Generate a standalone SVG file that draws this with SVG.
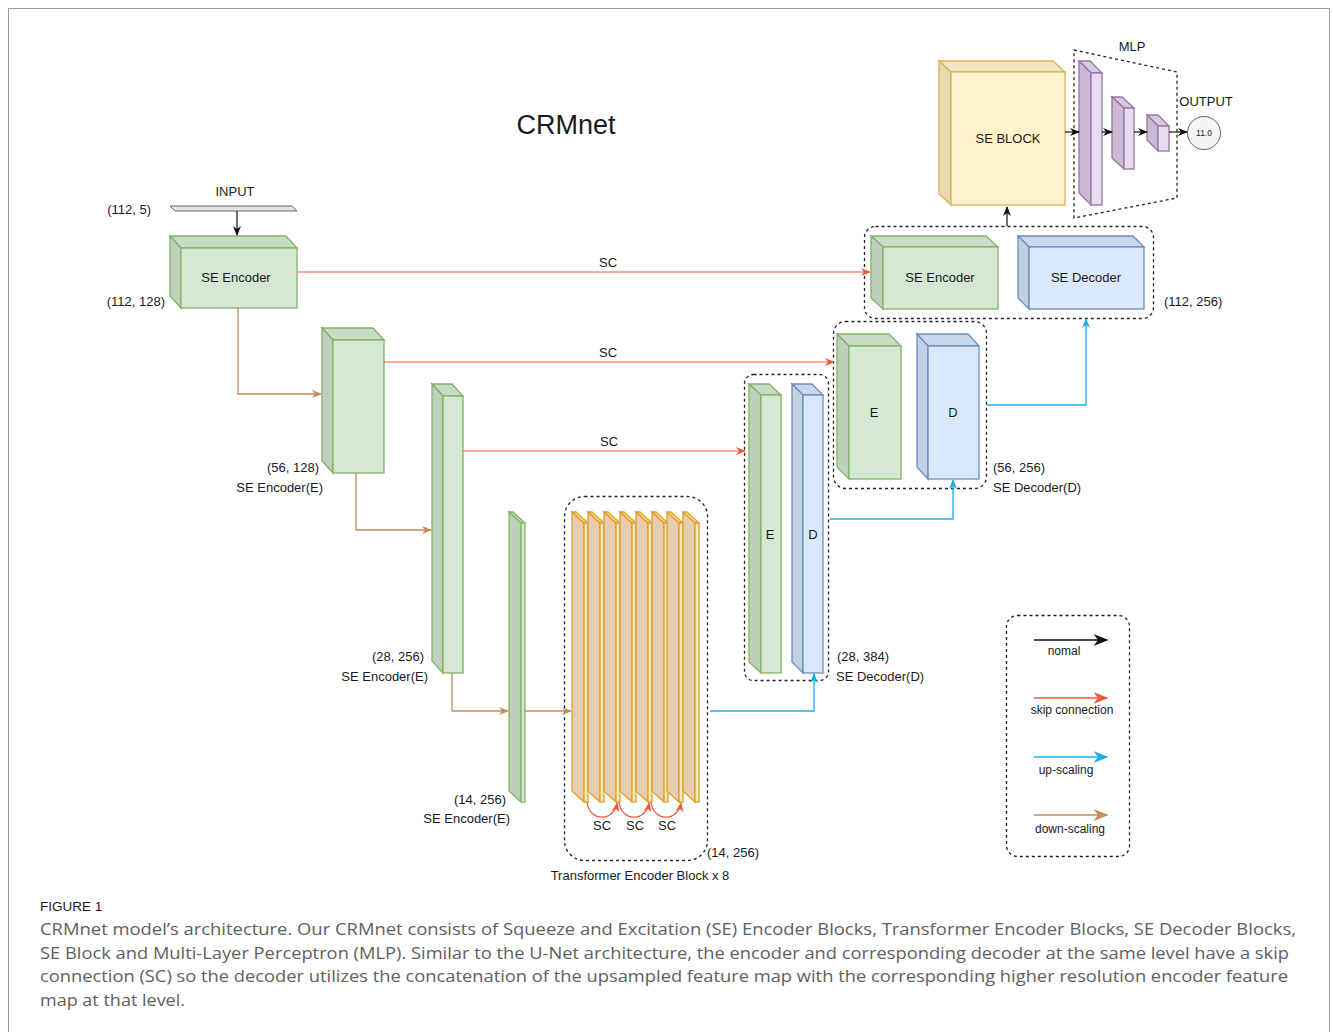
<svg xmlns="http://www.w3.org/2000/svg" width="1333" height="1032" viewBox="0 0 1333 1032">
<defs>
<style>
text{font-family:"Liberation Sans",Arial,sans-serif;fill:#1a1a1a}
.lb{font-size:13px}
.sm{font-size:12px}
.g .f{fill:#d5e8d4;stroke:#82b366;stroke-width:1.3}
.g .t{fill:#c7dbc6;stroke:#82b366;stroke-width:1.3}
.g .s{fill:#bdd0bc;stroke:#82b366;stroke-width:1.3}
.b .f{fill:#dae8fc;stroke:#6c8ebf;stroke-width:1.3}
.b .t{fill:#c9d7ec;stroke:#6c8ebf;stroke-width:1.3}
.b .s{fill:#c1cfe3;stroke:#6c8ebf;stroke-width:1.3}
.y .f{fill:#fff2cc;stroke:#d6b656;stroke-width:1.3}
.y .t{fill:#f1e5c2;stroke:#d6b656;stroke-width:1.3}
.y .s{fill:#e6d9b5;stroke:#d6b656;stroke-width:1.3}
.p .f{fill:#e8dcee;stroke:#9673a6;stroke-width:1.3}
.p .t{fill:#d6c8dd;stroke:#9673a6;stroke-width:1.3}
.p .s{fill:#cbb9d3;stroke:#9673a6;stroke-width:1.3}
.o .f{fill:#fde5c4;stroke:#e0a21e;stroke-width:1.3}
.o .t{fill:#f3d6a8;stroke:#e0a21e;stroke-width:1.3}
.o .s{fill:#e6cdb0;stroke:#e0a21e;stroke-width:1.3}
.dash{fill:none;stroke:#222;stroke-width:1.3;stroke-dasharray:3,3}
.k{fill:none;stroke:#111;stroke-width:1.2;marker-end:url(#ak)}
.r{fill:none;stroke:#f05a3c;stroke-width:1.2;marker-end:url(#ar)}
.u{fill:none;stroke:#1eaee8;stroke-width:1.3;marker-end:url(#au)}
.d{fill:none;stroke:#c48d55;stroke-width:1.3;marker-end:url(#ad)}
.cap{font-family:"Open Sans","Liberation Sans",sans-serif;font-size:17px;fill:#606060}
</style>
<marker id="ak" viewBox="0 0 10 10" refX="9" refY="5" markerWidth="10" markerHeight="10" markerUnits="userSpaceOnUse" orient="auto"><path d="M0,1 L10,5 L0,9 L3,5 z" fill="#111"/></marker>
<marker id="ar" viewBox="0 0 10 10" refX="9" refY="5" markerWidth="10" markerHeight="10" markerUnits="userSpaceOnUse" orient="auto"><path d="M0,1 L10,5 L0,9 L3,5 z" fill="#f05a3c"/></marker>
<marker id="au" viewBox="0 0 10 10" refX="9" refY="5" markerWidth="10" markerHeight="10" markerUnits="userSpaceOnUse" orient="auto"><path d="M0,1 L10,5 L0,9 L3,5 z" fill="#1eaee8"/></marker>
<marker id="ad" viewBox="0 0 10 10" refX="9" refY="5" markerWidth="10" markerHeight="10" markerUnits="userSpaceOnUse" orient="auto"><path d="M0,1 L10,5 L0,9 L3,5 z" fill="#c48d55"/></marker>
<marker id="lk" viewBox="0 0 10 10" refX="9" refY="5" markerWidth="15" markerHeight="15" markerUnits="userSpaceOnUse" orient="auto"><path d="M0,1 L10,5 L0,9 L3,5 z" fill="#111"/></marker>
<marker id="lr" viewBox="0 0 10 10" refX="9" refY="5" markerWidth="15" markerHeight="15" markerUnits="userSpaceOnUse" orient="auto"><path d="M0,1 L10,5 L0,9 L3,5 z" fill="#f05a3c"/></marker>
<marker id="lu" viewBox="0 0 10 10" refX="9" refY="5" markerWidth="15" markerHeight="15" markerUnits="userSpaceOnUse" orient="auto"><path d="M0,1 L10,5 L0,9 L3,5 z" fill="#1eaee8"/></marker>
<marker id="ld" viewBox="0 0 10 10" refX="9" refY="5" markerWidth="15" markerHeight="15" markerUnits="userSpaceOnUse" orient="auto"><path d="M0,1 L10,5 L0,9 L3,5 z" fill="#c48d55"/></marker>
</defs>
<rect x="0" y="0" width="1333" height="1032" fill="#fff"/>
<rect x="8.5" y="8.5" width="1321" height="1040" fill="none" stroke="#9a9a9a" stroke-width="1"/>

<text x="566" y="134" text-anchor="middle" font-size="27">CRMnet</text>

<g id="input">
<polygon points="170,206 292,206 297,211 175,211" fill="#e3e3e3" stroke="#666" stroke-width="1"/>
<text class="lb" x="235" y="196" text-anchor="middle">INPUT</text>
<text class="lb" x="151" y="214" text-anchor="end">(112, 5)</text>
</g>

<g id="se-encoder-1" class="g">
<polygon class="t" points="170,236 286,236 297,248 181,248"/>
<polygon class="s" points="170,236 181,248 181,308 170,296"/>
<rect class="f" x="181" y="248" width="116" height="60"/>
<text class="lb" x="236" y="282" text-anchor="middle">SE Encoder</text>
<text class="lb" x="165" y="306" text-anchor="end">(112, 128)</text>
</g>

<g id="encoder-56" class="g">
<polygon class="t" points="322,328 373,328 384,340 333,340"/>
<polygon class="s" points="322,328 333,340 333,473 322,461"/>
<rect class="f" x="333" y="340" width="51" height="133"/>
<text class="lb" x="319" y="472" text-anchor="end">(56, 128)</text>
<text class="lb" x="323" y="492" text-anchor="end">SE Encoder(E)</text>
</g>

<g id="encoder-28" class="g">
<polygon class="t" points="432,384 452,384 463,396 443,396"/>
<polygon class="s" points="432,384 443,396 443,673 432,661"/>
<rect class="f" x="443" y="396" width="20" height="277"/>
<text class="lb" x="424" y="661" text-anchor="end">(28, 256)</text>
<text class="lb" x="428" y="681" text-anchor="end">SE Encoder(E)</text>
</g>

<g id="encoder-14" class="g">
<polygon class="t" points="509,512 513,512 525,523 521,523"/>
<polygon class="s" points="509,512 521,523 521,802 509,791"/>
<rect class="f" x="521" y="523" width="4" height="279"/>
<text class="lb" x="506" y="804" text-anchor="end">(14, 256)</text>
<text class="lb" x="510" y="823" text-anchor="end">SE Encoder(E)</text>
</g>

<g id="transformer" class="o">
<rect class="dash" x="564.5" y="496.5" width="143" height="364" rx="20"/>
<g>
<polygon class="s" points="572,512 584,523 584,802 572,791"/><polygon class="t" points="572,512 576,512 588,523 584,523"/><rect class="f" x="584" y="523" width="4" height="279"/>
<polygon class="s" points="588,512 600,523 600,802 588,791"/><polygon class="t" points="588,512 592,512 604,523 600,523"/><rect class="f" x="600" y="523" width="4" height="279"/>
<polygon class="s" points="604,512 616,523 616,802 604,791"/><polygon class="t" points="604,512 608,512 620,523 616,523"/><rect class="f" x="616" y="523" width="4" height="279"/>
<polygon class="s" points="620,512 632,523 632,802 620,791"/><polygon class="t" points="620,512 624,512 636,523 632,523"/><rect class="f" x="632" y="523" width="4" height="279"/>
<polygon class="s" points="636,512 648,523 648,802 636,791"/><polygon class="t" points="636,512 640,512 652,523 648,523"/><rect class="f" x="648" y="523" width="4" height="279"/>
<polygon class="s" points="652,512 664,523 664,802 652,791"/><polygon class="t" points="652,512 656,512 668,523 664,523"/><rect class="f" x="664" y="523" width="4" height="279"/>
<polygon class="s" points="667,512 679,523 679,802 667,791"/><polygon class="t" points="667,512 671,512 683,523 679,523"/><rect class="f" x="679" y="523" width="4" height="279"/>
<polygon class="s" points="683,512 695,523 695,802 683,791"/><polygon class="t" points="683,512 687,512 699,523 695,523"/><rect class="f" x="695" y="523" width="4" height="279"/>
</g>
<text class="lb" x="602" y="830" text-anchor="middle">SC</text>
<text class="lb" x="635" y="830" text-anchor="middle">SC</text>
<text class="lb" x="667" y="830" text-anchor="middle">SC</text>
<text class="lb" x="707" y="857">(14, 256)</text>
<text class="lb" x="640" y="880" text-anchor="middle">Transformer Encoder Block x 8</text>
</g>

<g id="level-28-decoder">
<rect class="dash" x="744.5" y="374.5" width="84" height="306" rx="9"/>
<g class="g">
<polygon class="t" points="749,384 769,384 781,395 761,395"/>
<polygon class="s" points="749,384 761,395 761,673 749,662"/>
<rect class="f" x="761" y="395" width="20" height="278"/>
</g>
<g class="b">
<polygon class="t" points="792,384 812,384 823,395 803,395"/>
<polygon class="s" points="792,384 803,395 803,673 792,662"/>
<rect class="f" x="803" y="395" width="20" height="278"/>
</g>
<text class="lb" x="770" y="539" text-anchor="middle">E</text>
<text class="lb" x="813" y="539" text-anchor="middle">D</text>
<text class="lb" x="837" y="661">(28, 384)</text>
<text class="lb" x="836" y="681">SE Decoder(D)</text>
</g>

<g id="level-56-decoder">
<rect class="dash" x="833.5" y="321.5" width="153" height="167" rx="12"/>
<g class="g">
<polygon class="t" points="837,334 889,334 901,346 849,346"/>
<polygon class="s" points="837,334 849,346 849,479 837,467"/>
<rect class="f" x="849" y="346" width="52" height="133"/>
</g>
<g class="b">
<polygon class="t" points="917,334 968,334 979,346 928,346"/>
<polygon class="s" points="917,334 928,346 928,479 917,467"/>
<rect class="f" x="928" y="346" width="51" height="133"/>
</g>
<text class="lb" x="874" y="417" text-anchor="middle">E</text>
<text class="lb" x="953" y="417" text-anchor="middle">D</text>
<text class="lb" x="993" y="472">(56, 256)</text>
<text class="lb" x="993" y="492">SE Decoder(D)</text>
</g>

<g id="level-112-decoder">
<rect class="dash" x="864.5" y="226.5" width="289" height="92" rx="11"/>
<g class="g">
<polygon class="t" points="871,236 986,236 998,247 883,247"/>
<polygon class="s" points="871,236 883,247 883,309 871,298"/>
<rect class="f" x="883" y="247" width="115" height="62"/>
</g>
<g class="b">
<polygon class="t" points="1018,236 1133,236 1144,247 1029,247"/>
<polygon class="s" points="1018,236 1029,247 1029,309 1018,298"/>
<rect class="f" x="1029" y="247" width="115" height="62"/>
</g>
<text class="lb" x="940" y="282" text-anchor="middle">SE Encoder</text>
<text class="lb" x="1086" y="282" text-anchor="middle">SE Decoder</text>
<text class="lb" x="1164" y="306">(112, 256)</text>
</g>

<g id="se-block" class="y">
<polygon class="t" points="939,61 1053,61 1065,72 951,72"/>
<polygon class="s" points="939,61 951,72 951,205 939,194"/>
<rect class="f" x="951" y="72" width="114" height="133"/>
<text class="lb" x="1008" y="143" text-anchor="middle">SE BLOCK</text>
</g>

<g id="mlp">
<polygon class="dash" points="1074,50 1177,72 1177,198 1074,218"/>
<text class="lb" x="1132" y="51" text-anchor="middle">MLP</text>
<g class="p">
<polygon class="t" points="1079,61 1090,61 1102,73 1091,73"/>
<polygon class="s" points="1079,61 1091,73 1091,205 1079,193"/>
<rect class="f" x="1091" y="73" width="11" height="132"/>
<polygon class="t" points="1112,97 1122,97 1134,108 1124,108"/>
<polygon class="s" points="1112,97 1124,108 1124,169 1112,158"/>
<rect class="f" x="1124" y="108" width="10" height="61"/>
<polygon class="t" points="1147,115 1158,115 1169,126 1158,126"/>
<polygon class="s" points="1147,115 1158,126 1158,151 1147,140"/>
<rect class="f" x="1158" y="126" width="11" height="25"/>
</g>
</g>

<g id="output">
<circle cx="1204" cy="133" r="16.5" fill="#f5f5f5" stroke="#666" stroke-width="1"/>
<text x="1204" y="136" text-anchor="middle" font-size="8.5">11.0</text>
<text class="lb" x="1206" y="106" text-anchor="middle">OUTPUT</text>
</g>

<g id="connectors">
<path class="k" d="M237,211 V235"/>
<path class="k" d="M1007,226 V207"/>
<path class="k" d="M1065,132 H1079"/>
<path class="k" d="M1102,132 H1112"/>
<path class="k" d="M1134,132 H1147"/>
<path class="k" d="M1169,132 H1187"/>
<path class="d" d="M238,308 V394 H321"/>
<path class="d" d="M356,473 V530 H431"/>
<path class="d" d="M452,673 V711 H508"/>
<path class="d" d="M525,711 H571"/>
<path class="r" d="M297,272 H870"/>
<path class="r" d="M384,362 H834"/>
<path class="r" d="M463,451 H745"/>
<path class="u" d="M710,711 H814 V674"/>
<path class="u" d="M830,519 H953 V480"/>
<path class="u" d="M987,405 H1086 V319"/>
<path class="r" d="M587,802 C589,822 614,822 617,803"/>
<path class="r" d="M619,802 C621,822 646,822 649,803"/>
<path class="r" d="M651,802 C653,822 678,822 681,803"/>
<text class="lb" x="608" y="267" text-anchor="middle">SC</text>
<text class="lb" x="608" y="357" text-anchor="middle">SC</text>
<text class="lb" x="609" y="446" text-anchor="middle">SC</text>
</g>

<g id="legend">
<rect class="dash" x="1006.5" y="615.5" width="123" height="241" rx="11"/>
<path d="M1034,640 H1107" fill="none" stroke="#111" stroke-width="1.5" marker-end="url(#lk)"/>
<path d="M1034,698 H1107" fill="none" stroke="#f05a3c" stroke-width="1.5" marker-end="url(#lr)"/>
<path d="M1034,757 H1107" fill="none" stroke="#1eaee8" stroke-width="1.5" marker-end="url(#lu)"/>
<path d="M1034,815 H1107" fill="none" stroke="#c48d55" stroke-width="1.5" marker-end="url(#ld)"/>
<text class="sm" x="1064" y="655" text-anchor="middle">nomal</text>
<text class="sm" x="1072" y="714" text-anchor="middle">skip connection</text>
<text class="sm" x="1066" y="774" text-anchor="middle">up-scaling</text>
<text class="sm" x="1070" y="833" text-anchor="middle">down-scaling</text>
</g>

<g id="caption">
<text x="40" y="911" font-family="Open Sans,Liberation Sans,sans-serif" font-size="13.5" fill="#555">FIGURE 1</text>
<text class="cap" x="40" y="935" textLength="1256" lengthAdjust="spacingAndGlyphs">CRMnet model’s architecture. Our CRMnet consists of Squeeze and Excitation (SE) Encoder Blocks, Transformer Encoder Blocks, SE Decoder Blocks,</text>
<text class="cap" x="40" y="959" textLength="1249" lengthAdjust="spacingAndGlyphs">SE Block and Multi-Layer Perceptron (MLP). Similar to the U-Net architecture, the encoder and corresponding decoder at the same level have a skip</text>
<text class="cap" x="40" y="982" textLength="1248" lengthAdjust="spacingAndGlyphs">connection (SC) so the decoder utilizes the concatenation of the upsampled feature map with the corresponding higher resolution encoder feature</text>
<text class="cap" x="40" y="1006" textLength="145" lengthAdjust="spacingAndGlyphs">map at that level.</text>
</g>
</svg>
